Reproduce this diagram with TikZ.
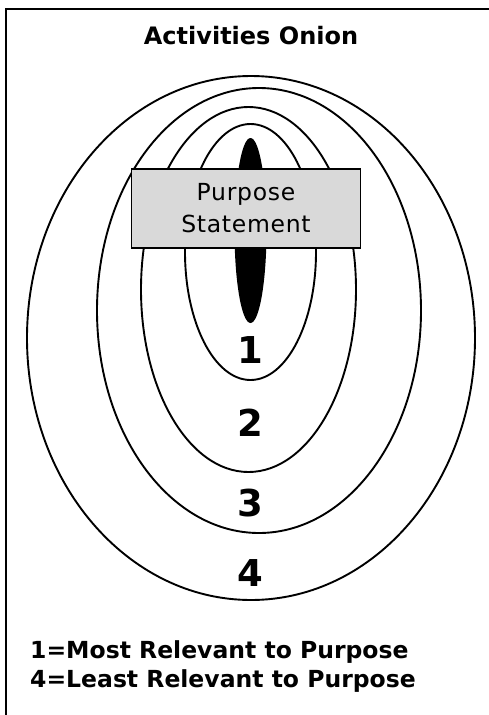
\documentclass[tikz,border=0pt]{standalone}
\usepackage{fontspec}
\setmainfont{DejaVu Sans}
\definecolor{boxgray}{HTML}{D9D9D9}
\begin{document}
\begin{tikzpicture}[x=1pt,y=-1pt,
  ring/.style={line width=1.9pt},
  frameline/.style={line width=2.2pt},
  purposebox/.style={draw, line width=1.9pt, fill=boxgray, minimum width=229pt, minimum height=79pt, align=center, inner sep=0pt, font=\addfontfeatures{LetterSpace=3}\fontsize{23.5}{32}\selectfont},
  titletext/.style={font=\bfseries\fontsize{24}{28}\selectfont},
  ringnum/.style={font=\bfseries\fontsize{37}{42}\selectfont, inner sep=0pt},
  legend/.style={anchor=base west, inner sep=0pt, font=\bfseries\fontsize{23.5}{28}\selectfont}]
\useasboundingbox (0,0) rectangle (489,715);
\draw[frameline] (6,715) -- (6,9) -- (489,9);
% rings
\draw[ring] (251,338) ellipse [x radius=224pt, y radius=262pt];
\draw[ring] (259,310.5) ellipse [x radius=162pt, y radius=222.5pt];
\draw[ring] (248.5,289.5) ellipse [x radius=107.5pt, y radius=182.5pt];
\draw[ring] (250.5,252) ellipse [x radius=65.5pt, y radius=128pt];
\fill (250.5,230.5) ellipse [x radius=16pt, y radius=92.5pt];
% texts
\node[titletext] (title) at (251,36) {Activities Onion};
\node[purposebox] (purpose) at (246,208.5) {Purpose\\Statement};
\node[ringnum] (n1) at (250,350) {1};
\node[ringnum] (n2) at (250,423) {2};
\node[ringnum] (n3) at (250,503) {3};
\node[ringnum] (n4) at (250,573) {4};
\node[legend] (l1) at (30,658) {1=Most Relevant to Purpose};
\node[legend] (l2) at (30,687) {4=Least Relevant to Purpose};
\end{tikzpicture}
\end{document}
